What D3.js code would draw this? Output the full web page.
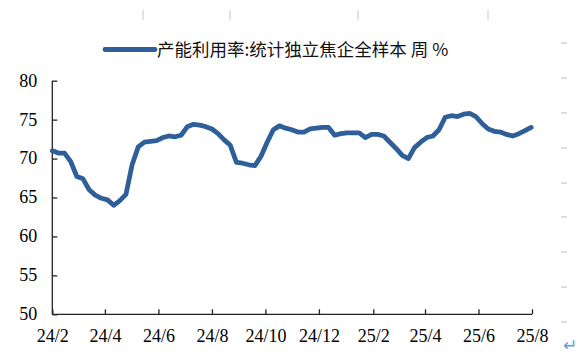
<!DOCTYPE html>
<html>
<head>
<meta charset="utf-8">
<script src="https://cdn.jsdelivr.net/npm/d3@7"></script>
<style>
html,body{margin:0;padding:0;background:#fff;}
svg{display:block;}
</style>
</head>
<body>
<svg id="chart" width="582" height="357"></svg>
<script>
// ---- data ----
const seriesName = "产能利用率:统计独立焦企全样本 周 %";
const startDate = "2024-02-01"; // first weekly observation
const utilization = [
  71.0, 70.7, 70.7, 69.6, 67.7, 67.4, 66.0, 65.3, 64.9, 64.7,
  64.0, 64.6, 65.4, 69.2, 71.5, 72.1, 72.2, 72.3, 72.7, 72.9,
  72.8, 73.0, 74.1, 74.4, 74.3, 74.1, 73.8, 73.2, 72.4, 71.7,
  69.5, 69.4, 69.2, 69.1, 70.3, 72.1, 73.7, 74.2, 73.9, 73.7,
  73.4, 73.4, 73.8, 73.9, 74.0, 74.0, 73.0, 73.2, 73.3, 73.3,
  73.3, 72.7, 73.1, 73.1, 72.9, 72.1, 71.3, 70.4, 70.0, 71.4,
  72.1, 72.7, 72.9, 73.7, 75.3, 75.5, 75.4, 75.7, 75.8, 75.4,
  74.5, 73.8, 73.5, 73.4, 73.1, 72.9, 73.2, 73.6, 74.0
];
const xTickLabels = ["24/2","24/4","24/6","24/8","24/10","24/12","25/2","25/4","25/6","25/8"];
const xTickDates = ["2024-02-01","2024-04-01","2024-06-01","2024-08-01","2024-10-01","2024-12-01","2025-02-01","2025-04-01","2025-06-01","2025-08-01"];
const yTicks = [50, 55, 60, 65, 70, 75, 80];

// ---- drawing ----
(function () {
const svg = d3.select("#chart");
const parse = d3.utcParse("%Y-%m-%d");
const mLeft = 52.3, mRight = 532, mTop = 80.7, mBottom = 314.3;
const serif = "Liberation Serif, Times New Roman, serif";

const x = d3.scaleUtc()
  .domain([parse(xTickDates[0]), parse(xTickDates[xTickDates.length - 1])])
  .range([mLeft, mRight]);
const y = d3.scaleLinear().domain([50, 80]).range([mBottom, mTop]);

const start = parse(startDate);
const points = utilization.map((v, i) => ({ date: d3.utcWeek.offset(start, i), value: v }));

// decorative crop artifacts (light grey marks)
const topMarks = [143, 230, 358, 488];
svg.selectAll("line.topmark").data(topMarks).enter().append("line")
  .attr("class", "topmark")
  .attr("x1", d => d).attr("x2", d => d).attr("y1", 10).attr("y2", 20)
  .attr("stroke", "#c8c8c8").attr("stroke-width", 1);
const sideMarks = [43, 78, 113, 148, 183, 217, 252, 287, 322];
svg.selectAll("line.sidemark").data(sideMarks).enter().append("line")
  .attr("class", "sidemark")
  .attr("x1", 561).attr("x2", 567).attr("y1", d => d).attr("y2", d => d)
  .attr("stroke", "#c8c8c8").attr("stroke-width", 1.2);

// y axis
const yAxis = d3.axisLeft(y).tickValues(yTicks).tickSize(-5).tickPadding(15);
const gy = svg.append("g").attr("transform", `translate(${mLeft},0)`).call(yAxis);
gy.select(".domain").attr("stroke", "#222").attr("stroke-width", 1.3).attr("d", `M0,${mTop}V${mBottom}`);
gy.selectAll(".tick line").attr("stroke", "#222").attr("stroke-width", 1.3);
gy.selectAll(".tick text")
  .attr("font-family", serif)
  .attr("font-size", 18).attr("fill", "#000").attr("dy", "0.3em");

// x axis
const xAxis = d3.axisBottom(x)
  .tickValues(xTickDates.map(parse))
  .tickFormat((d, i) => xTickLabels[i])
  .tickSize(-5).tickPadding(14);
const gx = svg.append("g").attr("transform", `translate(0,${mBottom})`).call(xAxis);
gx.select(".domain").attr("stroke", "#222").attr("stroke-width", 1.3).attr("d", `M${mLeft},0H${mRight}`);
gx.selectAll(".tick line").attr("stroke", "#222").attr("stroke-width", 1.3);
gx.selectAll(".tick text")
  .attr("font-family", serif)
  .attr("font-size", 18).attr("fill", "#000").attr("dy", "0.75em");

// series line
const line = d3.line().x(d => x(d.date)).y(d => y(d.value)).curve(d3.curveLinear);
svg.append("path").datum(points)
  .attr("d", line)
  .attr("fill", "none")
  .attr("stroke", "#2f5f98")
  .attr("stroke-width", 4.8)
  .attr("stroke-linejoin", "round")
  .attr("stroke-linecap", "round");

// legend
const lg = svg.append("g");
lg.append("line").attr("x1", 105).attr("x2", 155).attr("y1", 49.5).attr("y2", 49.5)
  .attr("stroke", "#2f5f98").attr("stroke-width", 4.8).attr("stroke-linecap", "round");
lg.append("text").attr("x", 157).attr("y", 56)
  .attr("font-family", "Noto Sans CJK SC, Noto Sans, sans-serif")
  .attr("font-size", 17.5).attr("fill", "#111")
  .text(seriesName);

// return-arrow glyph at bottom right
svg.append("text").attr("x", 563).attr("y", 351)
  .attr("font-family", "DejaVu Sans, sans-serif").attr("font-size", 17)
  .attr("fill", "#5aa0e6").text("↵");
})();
</script>
</body>
</html>
